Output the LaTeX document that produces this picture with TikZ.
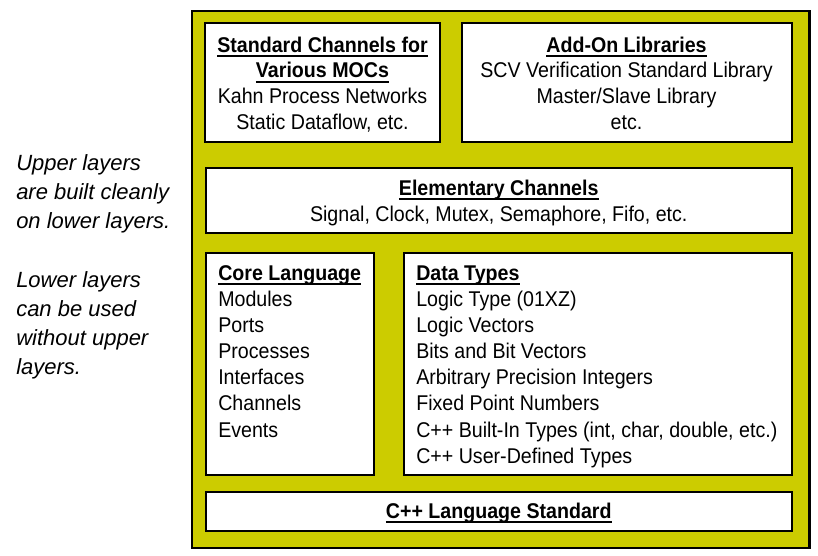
\documentclass[tikz,border=0pt]{standalone}
\usepackage{fontspec}
\setmainfont{Liberation Sans}[FakeStretch=0.92]
\newfontfamily\sidefont{Liberation Sans}
\usetikzlibrary{fit}
\definecolor{layerfill}{RGB}{204,204,0}
\newsavebox\ulbox
\newcommand\ulb[1]{\sbox\ulbox{#1}\rlap{\rule[-3.6pt]{\wd\ulbox}{1.5pt}}\usebox\ulbox}
\begin{document}
\begin{tikzpicture}[x=0.75pt,y=-0.75pt,
  frame/.style={draw=black, line width=1.8pt, fill=layerfill, inner sep=0pt},
  box/.style={draw=black, line width=1.5pt, fill=white, inner sep=0pt},
  txt/.style={inner sep=0pt, text=black, font=\fontsize{16pt}{19.6pt}\selectfont},
  toptxt/.style={txt, align=center, anchor=north, font=\fontsize{16pt}{19.2pt}\selectfont},
  sidetxt/.style={inner sep=0pt, align=left, anchor=north west, font=\sidefont\itshape\fontsize{16.5pt}{21.75pt}\selectfont}]
\useasboundingbox (0,0) rectangle (818,556);
% outer frame
\node[frame, fit={(192,11) (809.5,548)}] (outer) {};
% boxes
\node[box, fit={(205,23.5) (440,142)}] (sc) {};
\node[box, fit={(462,23.5) (791.5,142)}] (ao) {};
\node[box, fit={(206,168) (791.5,233)}] (ec) {};
\node[box, fit={(206,253) (373.5,475)}] (cl) {};
\node[box, fit={(404,253) (791.5,475)}] (dt) {};
\node[box, fit={(206,491.5) (791.5,530.5)}] (cpp) {};
% texts
\node[toptxt] (sctext) at (322.5,34.1) {\strut\textbf{\ulb{Standard Channels for}}\\ \textbf{\ulb{Various MOCs}}\\ Kahn Process Networks\\ Static Dataflow, etc.};
\node[toptxt] (aotext) at (626.5,34.1) {\strut\textbf{\ulb{Add-On Libraries}}\\ SCV Verification Standard Library\\ Master/Slave Library\\ etc.};
\node[txt, align=center, anchor=north] (ectext) at (498.75,176.7) {\strut\textbf{\ulb{Elementary Channels}}\\ Signal, Clock, Mutex, Semaphore, Fifo, etc.};
\node[txt, align=left, anchor=north west] (cltext) at (218,261.7) {\strut\textbf{\ulb{Core Language}}\\ Modules\\ Ports\\ Processes\\ Interfaces\\ Channels\\ Events};
\node[txt, align=left, anchor=north west] (dttext) at (416,261.7) {\strut\textbf{\ulb{Data Types}}\\ Logic Type (01XZ)\\ Logic Vectors\\ Bits and Bit Vectors\\ Arbitrary Precision Integers\\ Fixed Point Numbers\\ C++ Built-In Types (int, char, double, etc.)\\ C++ User-Defined Types};
\node[txt, anchor=base] (cpptext) at (498.75,518.5) {\textbf{\ulb{C++ Language Standard}}};
% side notes
\node[sidetxt] (upper) at (16,150.4) {\strut Upper layers\\ are built cleanly\\ on lower layers.};
\node[sidetxt] (lower) at (16,267.4) {\strut Lower layers\\ can be used\\ without upper\\ layers.};
\end{tikzpicture}
\end{document}
